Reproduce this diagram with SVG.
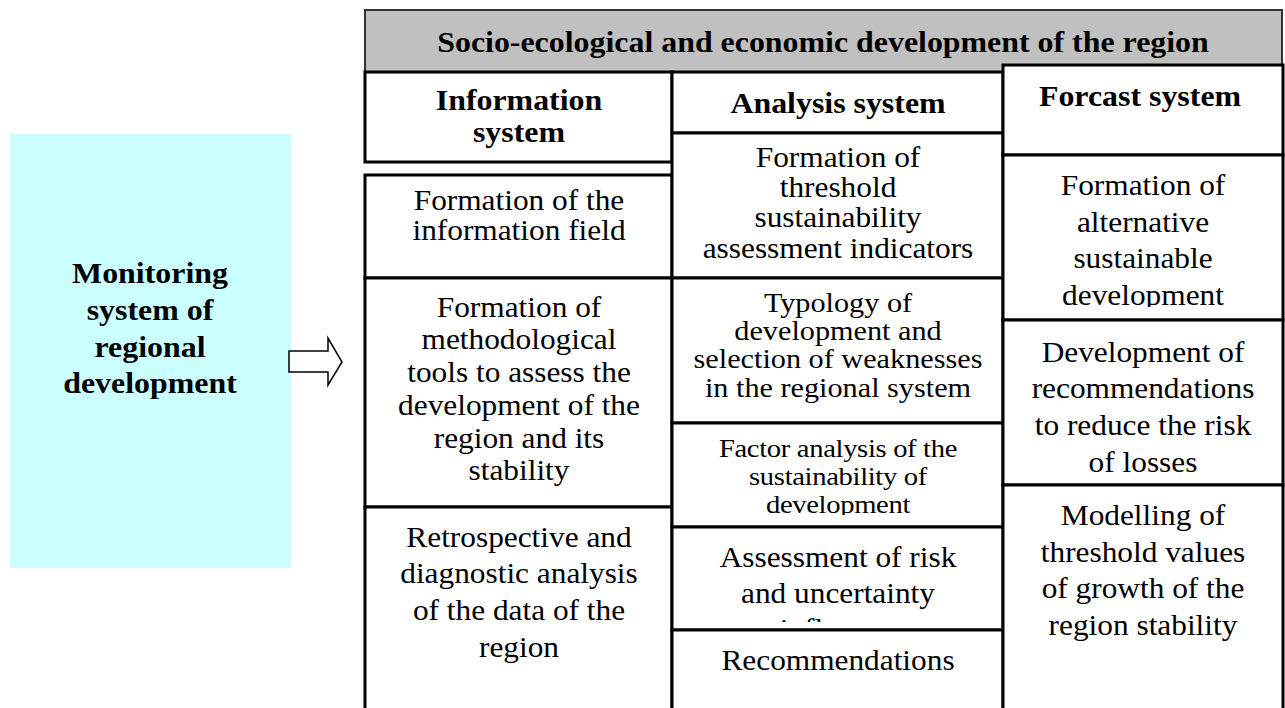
<svg xmlns="http://www.w3.org/2000/svg" width="1285" height="708" viewBox="0 0 1285 708">
<style>
.box{fill:#fff;stroke:#000;stroke-width:3}
.hdr{fill:#c0c0c0;stroke:#333;stroke-width:2}
.mon{fill:#ccffff;stroke:none}
.t{font-family:"Liberation Serif","Times New Roman",serif;font-size:28.5px;text-anchor:middle;fill:#000}
.b{font-weight:bold;font-size:29px}
.s30{font-size:27.5px}
.s28{font-size:26px;letter-spacing:-0.3px}
.arrow{fill:#fff;stroke:#000;stroke-width:1.5;stroke-linejoin:miter}
</style>
<defs>
<clipPath id="clipA3"><rect x="672" y="423" width="331" height="92"/></clipPath>
<clipPath id="clipA4"><rect x="672" y="527" width="331" height="95"/></clipPath>
<clipPath id="clipP1"><rect x="1003" y="155" width="280" height="152"/></clipPath>
</defs>
<rect width="1285" height="708" fill="#fff"/>

<g id="monitoring">
<rect class="mon" x="10" y="134" width="281" height="434"/>
<text class="t b" transform="translate(150 0) scale(1.1 1)"><tspan x="0" y="283">Monitoring</tspan><tspan x="0" y="320">system of</tspan><tspan x="0" y="357">regional</tspan><tspan x="0" y="393">development</tspan></text>
</g>

<g id="connectors">
<polygon class="arrow" points="289,351 328,351 328,338 342,362 328,385 328,372 289,372"/>
</g>

<g id="header">
<rect class="hdr" x="365" y="10" width="917" height="62"/>
<text class="t b" transform="translate(823 0) scale(1.1 1)" x="0" y="52">Socio-ecological and economic development of the region</text>
</g>

<g id="info-header">
<rect class="box" x="365" y="72" width="307" height="90"/>
<text class="t b" transform="translate(519 0) scale(1.1 1)"><tspan x="0" y="110">Information</tspan><tspan x="0" y="142">system</tspan></text>
</g>
<g id="info-field">
<rect class="box" x="365" y="175" width="307" height="103"/>
<text class="t" transform="translate(519 0) scale(1.1 1)"><tspan x="0" y="210">Formation of the</tspan><tspan x="0" y="240">information field</tspan></text>
</g>
<g id="info-tools">
<rect class="box" x="365" y="278" width="307" height="229"/>
<text class="t" transform="translate(519 0) scale(1.1 1)"><tspan x="0" y="317">Formation of</tspan><tspan x="0" y="349">methodological</tspan><tspan x="0" y="382">tools to assess the</tspan><tspan x="0" y="415">development of the</tspan><tspan x="0" y="448">region and its</tspan><tspan x="0" y="480">stability</tspan></text>
</g>
<g id="info-retro">
<rect class="box" x="365" y="507" width="307" height="206"/>
<text class="t" transform="translate(519 0) scale(1.1 1)"><tspan x="0" y="547">Retrospective and</tspan><tspan x="0" y="583">diagnostic analysis</tspan><tspan x="0" y="620">of the data of the</tspan><tspan x="0" y="657">region</tspan></text>
</g>

<g id="analysis-header">
<rect class="box" x="672" y="72" width="331" height="61"/>
<text class="t b" transform="translate(838 0) scale(1.1 1)" x="0" y="113">Analysis system</text>
</g>
<g id="analysis-threshold">
<rect class="box" x="672" y="133" width="331" height="145"/>
<text class="t" transform="translate(838 0) scale(1.1 1)"><tspan x="0" y="167">Formation of</tspan><tspan x="0" y="197">threshold</tspan><tspan x="0" y="227">sustainability</tspan><tspan x="0" y="258">assessment indicators</tspan></text>
</g>
<g id="analysis-typology">
<rect class="box" x="672" y="278" width="331" height="145"/>
<text class="t s30" transform="translate(838 0) scale(1.1 1)"><tspan x="0" y="312">Typology of</tspan><tspan x="0" y="340">development and</tspan><tspan x="0" y="368">selection of weaknesses</tspan><tspan x="0" y="397">in the regional system</tspan></text>
</g>
<g id="analysis-factor">
<rect class="box" x="672" y="423" width="331" height="104"/>
<g clip-path="url(#clipA3)">
<text class="t s28" transform="translate(838 0) scale(1.1 1)"><tspan x="0" y="457">Factor analysis of the</tspan><tspan x="0" y="485">sustainability of</tspan><tspan x="0" y="513">development</tspan></text>
</g>
</g>
<g id="analysis-risk">
<rect class="box" x="672" y="527" width="331" height="103"/>
<g clip-path="url(#clipA4)">
<text class="t" transform="translate(838 0) scale(1.1 1)"><tspan x="0" y="567">Assessment of risk</tspan><tspan x="0" y="603">and uncertainty</tspan><tspan x="0" y="639">influence</tspan></text>
</g>
</g>
<g id="analysis-recommendations">
<rect class="box" x="672" y="630" width="331" height="83"/>
<text class="t" transform="translate(838 0) scale(1.1 1)" x="0" y="670">Recommendations</text>
</g>

<g id="forecast-header">
<rect class="box" x="1003" y="65" width="280" height="90"/>
<text class="t b" transform="translate(1140 0) scale(1.1 1)" x="0" y="106">Forcast system</text>
</g>
<g id="forecast-alternative">
<rect class="box" x="1003" y="155" width="280" height="165"/>
<g clip-path="url(#clipP1)">
<text class="t" transform="translate(1143 0) scale(1.1 1)"><tspan x="0" y="195">Formation of</tspan><tspan x="0" y="232">alternative</tspan><tspan x="0" y="268">sustainable</tspan><tspan x="0" y="305">development</tspan></text>
</g>
</g>
<g id="forecast-recommendations">
<rect class="box" x="1003" y="320" width="280" height="165"/>
<text class="t" transform="translate(1143 0) scale(1.1 1)"><tspan x="0" y="362">Development of</tspan><tspan x="0" y="398">recommendations</tspan><tspan x="0" y="435">to reduce the risk</tspan><tspan x="0" y="472">of losses</tspan></text>
</g>
<g id="forecast-modelling">
<rect class="box" x="1003" y="485" width="280" height="228"/>
<text class="t" transform="translate(1143 0) scale(1.1 1)"><tspan x="0" y="525">Modelling of</tspan><tspan x="0" y="562">threshold values</tspan><tspan x="0" y="598">of growth of the</tspan><tspan x="0" y="635">region stability</tspan></text>
</g>
</svg>
